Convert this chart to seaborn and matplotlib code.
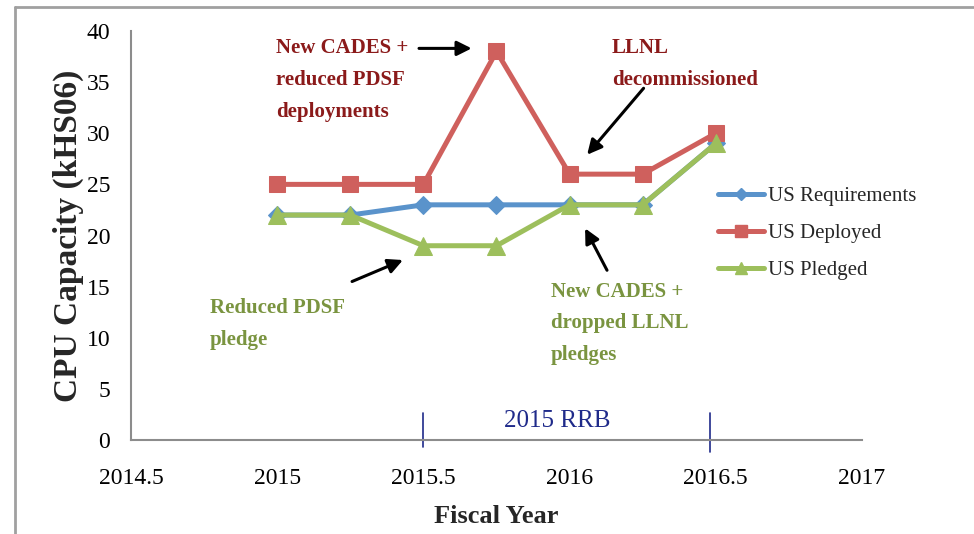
import matplotlib
matplotlib.use("Agg")
import matplotlib.pyplot as plt
import seaborn as sns
import pandas as pd
from matplotlib.lines import Line2D

years = [2015, 2015.25, 2015.5, 2015.75, 2016, 2016.25, 2016.5]
us_requirements = [22, 22, 23, 23, 23, 23, 29]
us_deployed = [25, 25, 25, 38, 26, 26, 30]
us_pledged = [22, 22, 19, 19, 23, 23, 29]
series_names = ["US Requirements", "US Deployed", "US Pledged"]
x_ticks = [2014.5, 2015, 2015.5, 2016, 2016.5, 2017]
x_tick_labels = ["2014.5", "2015", "2015.5", "2016", "2016.5", "2017"]
y_ticks = [0, 5, 10, 15, 20, 25, 30, 35, 40]

colors = {"US Requirements": "#5A93CB", "US Deployed": "#CF605D", "US Pledged": "#9DBF5C"}
markers = {"US Requirements": "D", "US Deployed": "s", "US Pledged": "^"}
msizes = {"US Requirements": 9, "US Deployed": 12, "US Pledged": 13}

df = pd.concat([
    pd.DataFrame({"Year": years, "Value": vals, "Series": name})
    for name, vals in zip(series_names, [us_requirements, us_deployed, us_pledged])
])

sns.set_style("white")
plt.rcParams["font.family"] = ["Liberation Serif", "DejaVu Serif"]

fig = plt.figure(figsize=(9.74, 5.34), dpi=100)
ax = fig.add_axes([131/974, 1-440/534, (862-131)/974, (440-31)/534])

for name in series_names:
    sub = df[df["Series"] == name]
    sns.lineplot(data=sub, x="Year", y="Value", ax=ax, color=colors[name],
                 marker=markers[name], markersize=msizes[name], linewidth=3.6,
                 markeredgecolor=colors[name], label=name, legend=False)

ax.set_xlim(2014.5, 2017)
ax.set_ylim(0, 40)
ax.set_xticks(x_ticks)
ax.set_xticklabels(x_tick_labels)
ax.set_yticks(y_ticks)
ax.tick_params(axis="both", length=0, labelsize=17, colors="black")
ax.tick_params(axis="x", pad=20)
ax.tick_params(axis="y", pad=15)
for s in ["top", "right"]:
    ax.spines[s].set_visible(False)
for s in ["left", "bottom"]:
    ax.spines[s].set_color("#8C8C8C")
    ax.spines[s].set_linewidth(1.5)

ax.set_xlabel("Fiscal Year", fontsize=19, fontweight="bold")
ax.set_ylabel("CPU Capacity (kHS06)", fontsize=24, fontweight="bold")
ax.xaxis.set_label_coords(0.5, -0.16)
ax.yaxis.set_label_coords(-0.064, 0.5)

handles = [Line2D([0], [0], color=colors[n], marker=markers[n], markersize=msizes[n]*0.7,
                  linewidth=3.6) for n in series_names]
leg = ax.legend(handles, series_names, loc="upper left", bbox_to_anchor=(0.792, 0.64),
                frameon=False, fontsize=15, handlelength=2.2, handletextpad=0.2,
                labelspacing=0.83, borderaxespad=0)

dark_red = "#8B1A1A"
green_txt = "#7A9440"
fs_ann = 15
ls_ann = 1.78
ax.text(2014.996, 39.3, "New CADES +\nreduced PDSF\ndeployments", color=dark_red,
        fontsize=fs_ann, fontweight="bold", ha="left", va="top", linespacing=ls_ann)
ax.text(2016.145, 39.3, "LLNL\ndecommissioned", color=dark_red, fontsize=fs_ann,
        fontweight="bold", ha="left", va="top", linespacing=ls_ann)
ax.text(2014.77, 13.9, "Reduced PDSF\npledge", color=green_txt, fontsize=fs_ann,
        fontweight="bold", ha="left", va="top", linespacing=ls_ann)
ax.text(2015.935, 15.5, "New CADES +\ndropped LLNL\npledges", color=green_txt, fontsize=fs_ann,
        fontweight="bold", ha="left", va="top", linespacing=ls_ann)

arrow = dict(arrowstyle="-|>", color="black", lw=2.2, mutation_scale=22, shrinkA=0, shrinkB=0)
ax.annotate("", xy=(2015.665, 38.3), xytext=(2015.485, 38.3), arrowprops=arrow)
ax.annotate("", xy=(2016.06, 27.9), xytext=(2016.253, 34.4), arrowprops=arrow)
ax.annotate("", xy=(2015.43, 17.6), xytext=(2015.256, 15.5), arrowprops=arrow)
ax.annotate("", xy=(2016.053, 20.7), xytext=(2016.128, 16.6), arrowprops=arrow)

navy = "#1F2A8A"
ax.text(2015.957, 1.9, "2015 RRB", color=navy, fontsize=18, ha="center", va="center")
ax.plot([2015.5, 2015.5], [-0.7, 2.6], color=navy, lw=1.2, clip_on=False)
ax.plot([2016.48, 2016.48], [-1.2, 2.6], color=navy, lw=1.2, clip_on=False)

fig.add_artist(Line2D([15/974, 1.0], [1-7/534, 1-7/534], color="#A0A0A0", lw=2.0,
                      transform=fig.transFigure))
fig.add_artist(Line2D([15/974, 15/974], [0.0, 1-7/534], color="#A0A0A0", lw=2.0,
                      transform=fig.transFigure))

fig.savefig("out.png", dpi=100)
